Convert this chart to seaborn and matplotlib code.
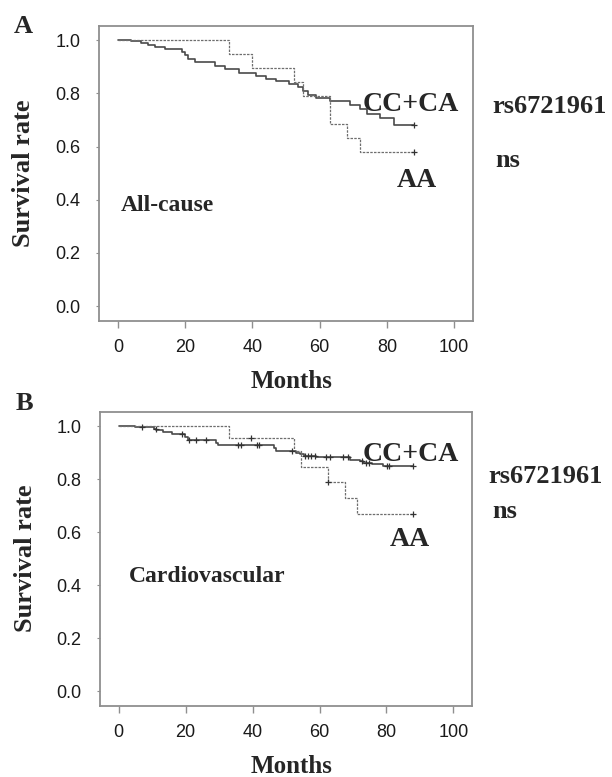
import matplotlib
matplotlib.use('Agg')
import matplotlib.pyplot as plt
import seaborn as sb
import pandas as pd
import numpy as np

# --- data (months, survival) ---
# A: all-cause
a_cc_months = [0, 4, 7, 9, 11, 14, 19, 20, 21, 23, 29, 32, 36, 41, 44, 47, 51, 53.5, 55, 56.5,
               59, 63, 69, 72, 74, 78, 82, 88]
a_cc_surv = [1.0, .996, .99, .983, .975, .966, .957, .943, .93, .917, .904, .891, .878, .866, .854,
             .845, .837, .826, .81, .795, .784, .771, .758, .742, .722, .708, .683, .683]
a_aa_months = [0, 33, 40, 52.5, 55, 63, 68, 72, 88]
a_aa_surv = [1.0, .947, .895, .842, .789, .684, .632, .579, .579]
a_cc_censor = [88]
a_aa_censor = [88]

# B: cardiovascular
b_cc_months = [0, 5, 10.5, 11.2, 13.3, 16, 19.8, 20.8, 29.2, 29.8, 46.4, 47, 53, 54.3, 55.3, 59,
               69, 72, 73, 75.6, 79, 88]
b_cc_surv = [1.0, .996, .99, .984, .977, .971, .96, .948, .937, .927, .918, .908, .9, .895, .889,
             .885, .874, .868, .862, .857, .848, .848]
b_aa_months = [0, 33, 52.5, 54.6, 62.5, 67.5, 71.3, 88]
b_aa_surv = [1.0, .955, .906, .846, .789, .73, .67, .67]
b_cc_censor = [7, 11, 19, 21, 23, 26, 35.6, 36.6, 41.3, 41.8, 51.7, 55.6, 56.6, 57.6, 58.6, 62, 63,
               67, 68.6, 72.8, 73.8, 74.8, 80.3, 80.8, 88]
b_aa_censor = [39.6, 62.5, 88]

x_ticks = [0, 20, 40, 60, 80, 100]
y_ticks = [0.0, 0.2, 0.4, 0.6, 0.8, 1.0]

sb.set_theme(style='white')
plt.rcParams['font.family'] = ['Liberation Sans', 'DejaVu Sans']
SERIF = ['Liberation Serif', 'DejaVu Serif']
SPINE = '#8f8f8f'


def censor_points(months, surv, censor):
    '''y-value of each censor mark = step value of the curve at that time'''
    idx = np.searchsorted(months, censor, side='right') - 1
    return pd.DataFrame({'Months': censor, 'Survival': np.array(surv)[idx]})


def km_panel(ax, cc, aa, title, cc_pos, aa_pos):
    df_cc = pd.DataFrame({'Months': cc[0], 'Survival': cc[1]})
    df_aa = pd.DataFrame({'Months': aa[0], 'Survival': aa[1]})
    sb.lineplot(data=df_cc, x='Months', y='Survival', ax=ax, estimator=None, drawstyle='steps-post',
                color='#4a4a4a', linewidth=1.2)
    sb.lineplot(data=df_aa, x='Months', y='Survival', ax=ax, estimator=None, drawstyle='steps-post',
                color='#6e6e6e', linewidth=0.9, linestyle=(0, (2, 1)))
    for pts in (censor_points(cc[0], cc[1], cc[2]), censor_points(aa[0], aa[1], aa[2])):
        sb.scatterplot(data=pts, x='Months', y='Survival', ax=ax, marker='+', s=16,
                       color='#333333', linewidth=0.9, zorder=3)

    ax.set_xlim(-5.6, 105.6)
    ax.set_ylim(-0.055, 1.055)
    ax.set_xticks(x_ticks)
    ax.set_yticks(y_ticks)
    ax.set_yticklabels([f'{v:.1f}' for v in y_ticks])
    ax.tick_params(axis='x', length=5, width=1, color=SPINE, labelsize=13, pad=8, labelcolor='#1a1a1a')
    ax.tick_params(axis='y', length=2.5, width=0.8, color=SPINE, labelsize=13, pad=11, labelcolor='#1a1a1a')
    ax.tick_params(left=True, bottom=True)
    for s in ax.spines.values():
        s.set_color(SPINE)
        s.set_linewidth(1.3)

    ax.set_xlabel('Months', family=SERIF, weight='bold', fontsize=18)
    ax.set_ylabel('Survival rate', family=SERIF, weight='bold', fontsize=19)
    ax.xaxis.set_label_coords(0.515, -0.168)
    ax.yaxis.set_label_coords(-0.17, 0.5)

    ax.text(cc_pos[0], cc_pos[1], 'CC+CA', family=SERIF, weight='bold', fontsize=20, va='baseline')
    ax.text(aa_pos[0], aa_pos[1], 'AA', family=SERIF, weight='bold', fontsize=20, va='baseline')
    ax.text(0.9 if title == 'All-cause' else 3, 0.356 if title == 'All-cause' else 0.41, title,
            family=SERIF, weight='bold', fontsize=17, va='baseline')


fig = plt.figure(figsize=(6.12, 7.77), dpi=100)
ax_a = fig.add_axes([0.1618, 0.5873, 0.611, 0.3797])
ax_b = fig.add_axes([0.1634, 0.0919, 0.608, 0.3784])

km_panel(ax_a, (a_cc_months, a_cc_surv, a_cc_censor), (a_aa_months, a_aa_surv, a_aa_censor),
         'All-cause', (72.8, 0.732), (82.8, 0.449))
km_panel(ax_b, (b_cc_months, b_cc_surv, b_cc_censor), (b_aa_months, b_aa_surv, b_aa_censor),
         'Cardiovascular', (72.8, 0.868), (81, 0.547))

# panel letters and the SNP annotation
fig.text(14 / 612, 1 - 33 / 777, 'A', family=SERIF, weight='bold', fontsize=19, va='baseline')
fig.text(16 / 612, 1 - 410 / 777, 'B', family=SERIF, weight='bold', fontsize=19, va='baseline')
fig.text(492 / 612, 1 - 113 / 777, 'rs6721961', family=SERIF, weight='bold', fontsize=19, va='baseline')
fig.text(495 / 612, 1 - 167 / 777, 'ns', family=SERIF, weight='bold', fontsize=19, va='baseline')
fig.text(488 / 612, 1 - 483 / 777, 'rs6721961', family=SERIF, weight='bold', fontsize=19, va='baseline')
fig.text(492 / 612, 1 - 518 / 777, 'ns', family=SERIF, weight='bold', fontsize=19, va='baseline')

fig.savefig('out.png', dpi=100)
